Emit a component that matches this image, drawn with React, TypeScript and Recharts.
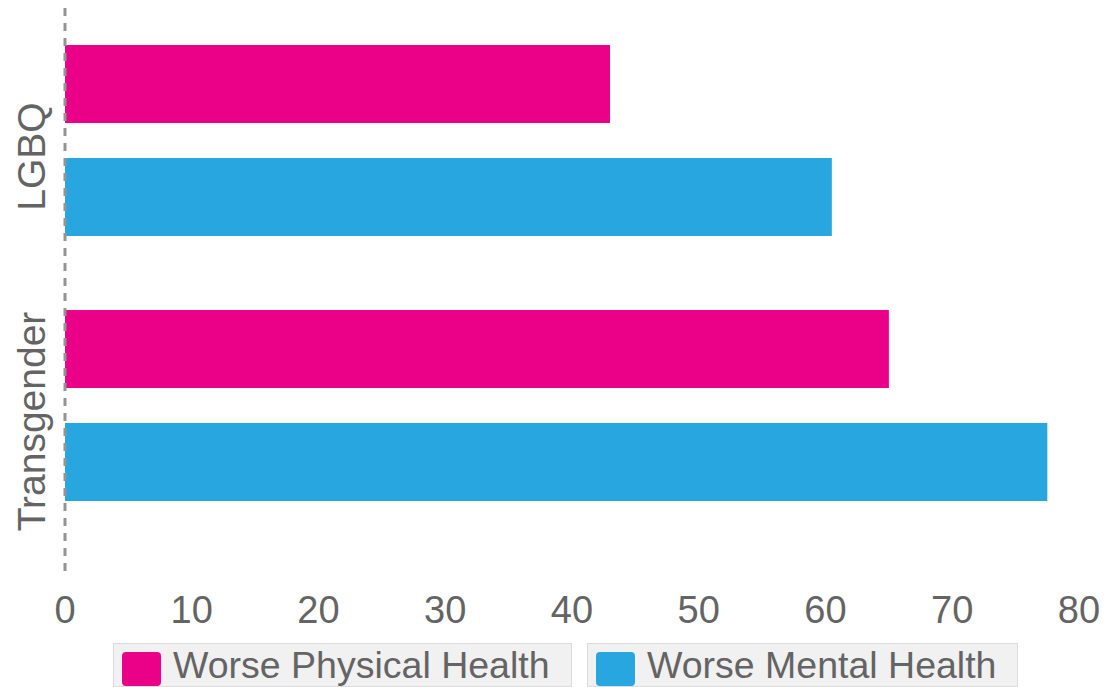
import { BarChart, Bar, XAxis, YAxis, Legend } from "recharts";

const categories = ["LGBQ", "Transgender"];
const physicalHealth = [43, 65];
const mentalHealth = [60.5, 77.5];
const xTicks = [0, 10, 20, 30, 40, 50, 60, 70, 80];

const seriesNames = ["Worse Physical Health", "Worse Mental Health"];
const PINK = "#EB0088";
const BLUE = "#27A6DF";
const TEXT = "#646464";
const FONT = "'Liberation Sans', Arial, Helvetica, sans-serif";

const data = categories.map((name, i) => ({
  name,
  physical: physicalHealth[i],
  mental: mentalHealth[i],
}));

function CategoryTick(props: any) {
  const { y, payload } = props;
  const cx = 45;
  const cy = y + 16;
  return (
    <text
      x={cx}
      y={cy}
      textAnchor="middle"
      transform={`rotate(-90, ${cx}, ${cy})`}
      fill={TEXT}
      fontSize={39}
      fontFamily={FONT}
    >
      {payload.value}
    </text>
  );
}

function ValueTick(props: any) {
  const { x, y, payload } = props;
  return (
    <text
      x={x}
      y={y + 50}
      textAnchor="middle"
      fill={TEXT}
      fontSize={38}
      fontFamily={FONT}
    >
      {payload.value}
    </text>
  );
}

function LegendBoxes() {
  const boxes = [
    { left: 113, width: 459, color: PINK, label: seriesNames[0] },
    { left: 587, width: 431, color: BLUE, label: seriesNames[1] },
  ];
  return (
    <div style={{ position: "relative", width: 1109, height: 44 }}>
      {boxes.map((b) => (
        <div
          key={b.label}
          style={{
            position: "absolute",
            left: b.left,
            top: 0,
            width: b.width,
            height: 44,
            boxSizing: "border-box",
            background: "#f1f1f1",
            border: "1px solid #dcdcdc",
            display: "flex",
            alignItems: "center",
            paddingLeft: 8,
          }}
        >
          <span
            style={{
              display: "inline-block",
              width: 39,
              height: 34,
              borderRadius: 4,
              background: b.color,
              marginRight: 12,
              marginTop: 8,
            }}
          />
          <span
            style={{
              fontFamily: FONT,
              fontSize: 37.5,
              color: TEXT,
              lineHeight: "44px",
              whiteSpace: "nowrap",
            }}
          >
            {b.label}
          </span>
        </div>
      ))}
    </div>
  );
}

export default function App() {
  return (
    <div style={{ position: "absolute", left: 0, top: 0, width: 1109, height: 687, background: "#fff" }}>
      <BarChart
        width={1109}
        height={687}
        data={data}
        layout="vertical"
        margin={{ top: 8, right: 30, bottom: 0, left: 0 }}
        barSize={78}
        barGap={35}
      >
        <XAxis
          type="number"
          domain={[0, 80]}
          ticks={xTicks}
          axisLine={false}
          tickLine={false}
          tickSize={0}
          tickMargin={0}
          height={70}
          tick={<ValueTick />}
          interval={0}
        />
        <YAxis
          type="category"
          dataKey="name"
          width={65}
          padding={{ top: 0, bottom: 35 }}
          axisLine={{ stroke: "#949494", strokeWidth: 3, strokeDasharray: "8 7" }}
          tickLine={false}
          tick={<CategoryTick />}
        />
        <Legend
          verticalAlign="bottom"
          height={44}
          wrapperStyle={{ left: 0, bottom: 0, width: 1109 }}
          content={() => <LegendBoxes />}
        />
        <Bar dataKey="physical" name={seriesNames[0]} fill={PINK} isAnimationActive={false} />
        <Bar dataKey="mental" name={seriesNames[1]} fill={BLUE} isAnimationActive={false} />
      </BarChart>
    </div>
  );
}
